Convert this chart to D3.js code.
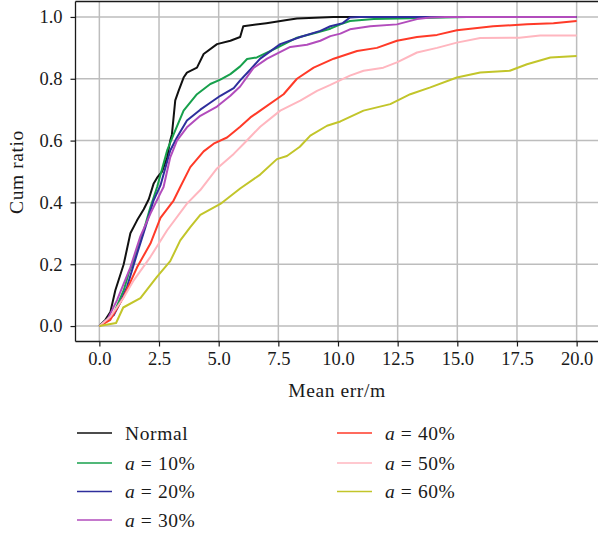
<!DOCTYPE html>
<html>
<head>
<meta charset="utf-8">
<script src="https://cdn.jsdelivr.net/npm/d3@7/dist/d3.min.js"></script>
<style>
  html, body { margin: 0; padding: 0; background: #fff; }
  svg { display: block; }
  text { font-family: "Liberation Serif", "DejaVu Serif", serif; fill: #1a1a1a; }
</style>
</head>
<body>
<svg id="chart" width="598" height="533"></svg>
<script>
// Cumulative ratio of mean error (m) for each condition
const normal = [[0,0],[0.25,0.02],[0.46,0.045],[0.67,0.116],[1.02,0.2],[1.3,0.3],[1.58,0.342],[1.86,0.378],[2.07,0.41],[2.27,0.46],[2.42,0.48],[2.63,0.5],[2.84,0.546],[2.97,0.6],[3.04,0.62],[3.18,0.73],[3.32,0.761],[3.53,0.804],[3.67,0.82],[4.09,0.836],[4.37,0.88],[4.93,0.912],[5.49,0.923],[5.9,0.935],[6.03,0.97],[7.0,0.98],[7.86,0.99],[8.28,0.995],[9.8,1.0],[20,1.0]];
const a10 = [[0,0],[0.3,0.02],[0.6,0.04],[1.02,0.116],[1.23,0.17],[1.44,0.213],[1.86,0.31],[2.14,0.385],[2.42,0.45],[2.84,0.568],[3.11,0.62],[3.53,0.697],[4.09,0.75],[4.65,0.783],[5.07,0.797],[5.49,0.815],[5.9,0.84],[6.19,0.864],[6.6,0.869],[7.44,0.9],[8.28,0.933],[9.12,0.95],[9.68,0.962],[10.1,0.976],[10.5,0.987],[11.5,0.993],[13,0.996],[15.4,1.0],[20,1.0]];
const a20 = [[0,0],[0.3,0.02],[0.6,0.035],[0.9,0.08],[1.16,0.127],[1.58,0.234],[1.93,0.32],[2.27,0.406],[2.56,0.455],[2.97,0.568],[3.25,0.61],[3.67,0.665],[4.23,0.7],[4.6,0.72],[5.07,0.745],[5.63,0.77],[5.9,0.795],[6.33,0.83],[6.74,0.865],[7.58,0.912],[8.42,0.935],[9.26,0.955],[9.68,0.97],[10.2,0.98],[10.5,0.998],[10.9,1.0],[20,1.0]];
const a30 = [[0,0],[0.3,0.015],[0.74,0.084],[1.3,0.19],[1.72,0.29],[2.14,0.364],[2.56,0.43],[2.69,0.45],[2.97,0.546],[3.25,0.6],[3.67,0.643],[4.23,0.68],[4.93,0.71],[5.49,0.745],[5.9,0.775],[6.46,0.835],[7.03,0.865],[8.0,0.903],[8.7,0.91],[9.26,0.923],[9.68,0.938],[10.1,0.946],[10.5,0.96],[11.35,0.97],[12.47,0.976],[13.31,0.993],[13.87,0.998],[14.5,1.0],[20,1.0]];
const a40 = [[0,0],[0.46,0.02],[1.02,0.095],[1.58,0.19],[2.14,0.267],[2.56,0.35],[3.11,0.406],[3.39,0.45],[3.81,0.514],[4.37,0.565],[4.79,0.59],[5.35,0.61],[5.9,0.645],[6.33,0.675],[6.74,0.697],[7.72,0.75],[8.28,0.8],[8.98,0.836],[9.82,0.865],[10.8,0.89],[11.63,0.9],[12.47,0.923],[13.31,0.935],[14.15,0.942],[14.98,0.957],[16.5,0.97],[17.92,0.976],[19.03,0.98],[20,0.987]];
const a50 = [[0,0],[0.46,0.03],[1.0,0.09],[1.44,0.148],[2.14,0.224],[2.84,0.31],[3.67,0.396],[4.23,0.44],[4.93,0.51],[5.63,0.557],[6.05,0.59],[6.74,0.645],[7.58,0.697],[8.42,0.729],[9.12,0.761],[9.68,0.78],[10.5,0.81],[11.07,0.826],[11.9,0.836],[12.47,0.853],[13.31,0.885],[14.15,0.9],[14.98,0.917],[15.96,0.932],[17.6,0.933],[18.47,0.94],[20,0.94]];
const a60 = [[0,0],[0.7,0.01],[1.0,0.06],[1.72,0.09],[2.42,0.16],[2.97,0.21],[3.39,0.277],[3.81,0.32],[4.23,0.36],[5.07,0.395],[5.9,0.445],[6.74,0.49],[7.44,0.54],[7.86,0.55],[8.4,0.58],[8.84,0.616],[9.54,0.648],[10.1,0.662],[11.07,0.697],[12.19,0.718],[13.03,0.75],[13.87,0.772],[14.98,0.804],[15.96,0.82],[17.2,0.826],[17.92,0.847],[18.9,0.869],[20,0.874]];

const seriesLabels = ["Normal", "10%", "20%", "30%", "40%", "50%", "60%"];
const seriesData = [normal, a10, a20, a30, a40, a50, a60];
const seriesColors = ["#111111", "#17a04c", "#2e2e9c", "#b24cbc", "#ff3a28", "#ffb6bf", "#c2c52a"];

const xTicks = [0, 2.5, 5, 7.5, 10, 12.5, 15, 17.5, 20];
const yTicks = [0, 0.2, 0.4, 0.6, 0.8, 1.0];

const svg = d3.select("#chart");
const plotLeft = 75.5, plotRight = 600.5, plotTop = 1.5, plotBottom = 341.5;

const x = d3.scaleLinear().domain([-1, 21]).range([plotLeft, plotRight]);
const y = d3.scaleLinear().domain([-0.05, 1.05]).range([plotBottom, plotTop]);

// grid
const grid = svg.append("g");
grid.selectAll(".gx").data(xTicks).join("line")
  .attr("x1", d => x(d)).attr("x2", d => x(d))
  .attr("y1", plotTop).attr("y2", plotBottom)
  .attr("stroke", "#bdbdbd").attr("stroke-width", 1.5);
grid.selectAll(".gy").data(yTicks).join("line")
  .attr("x1", plotLeft).attr("x2", plotRight)
  .attr("y1", d => y(d)).attr("y2", d => y(d))
  .attr("stroke", "#bdbdbd").attr("stroke-width", 1.5);

// curves
const line = d3.line().x(d => x(d[0])).y(d => y(d[1]));
const plot = svg.append("g");
seriesData.forEach((s, i) => {
  plot.append("path").datum(s)
    .attr("d", line)
    .attr("fill", "none")
    .attr("stroke", seriesColors[i])
    .attr("stroke-width", 2)
    .attr("stroke-linejoin", "round");
});

// axes
const xAxis = d3.axisBottom(x).tickValues(xTicks).tickFormat(d3.format(".1f")).tickSize(5).tickPadding(5);
const yAxis = d3.axisLeft(y).tickValues(yTicks).tickFormat(d3.format(".1f")).tickSize(5).tickPadding(8);

const gx = svg.append("g").attr("transform", `translate(0,${plotBottom})`).call(xAxis);
const gy = svg.append("g").attr("transform", `translate(${plotLeft},0)`).call(yAxis);
[gx, gy].forEach(g => {
  g.select(".domain").remove();
  g.selectAll(".tick line").attr("stroke", "#1a1a1a").attr("stroke-width", 1.2);
  g.selectAll(".tick text").attr("font-size", 18.5).attr("fill", "#1a1a1a")
    .style("font-family", '"Liberation Serif", serif');
});

// frame: left, bottom and top spines
svg.append("line").attr("x1", plotLeft).attr("x2", plotLeft).attr("y1", plotTop).attr("y2", plotBottom)
  .attr("stroke", "#1a1a1a").attr("stroke-width", 1.3);
svg.append("line").attr("x1", plotLeft).attr("x2", 598).attr("y1", plotBottom).attr("y2", plotBottom)
  .attr("stroke", "#1a1a1a").attr("stroke-width", 1.3);
svg.append("line").attr("x1", plotLeft).attr("x2", 598).attr("y1", plotTop).attr("y2", plotTop)
  .attr("stroke", "#1a1a1a").attr("stroke-width", 1.3);

// axis titles
svg.append("text").attr("x", 337).attr("y", 397).attr("text-anchor", "middle")
  .attr("font-size", 19.5).attr("letter-spacing", 0.6).text("Mean err/m");
svg.append("text").attr("transform", "translate(23,172) rotate(-90)").attr("text-anchor", "middle")
  .attr("font-size", 19.5).attr("letter-spacing", 0.6).text("Cum ratio");

// legend in two columns
const legendPos = [[77, 433], [77, 463], [77, 491.5], [77, 520], [337, 433], [337, 463], [337, 491.5]];
const legend = svg.append("g");
seriesLabels.forEach((lab, i) => {
  const [lx, ly] = legendPos[i];
  legend.append("line").attr("x1", lx).attr("x2", lx + 35).attr("y1", ly).attr("y2", ly)
    .attr("stroke", seriesColors[i]).attr("stroke-width", 1.6);
  const t = legend.append("text").attr("x", lx + 48).attr("y", ly + 6.5)
    .attr("font-size", 19.5).attr("letter-spacing", 0.6);
  if (i === 0) {
    t.text(lab);
  } else {
    t.append("tspan").attr("font-style", "italic").text("a");
    t.append("tspan").text(" = " + lab);
  }
});
</script>
</body>
</html>
